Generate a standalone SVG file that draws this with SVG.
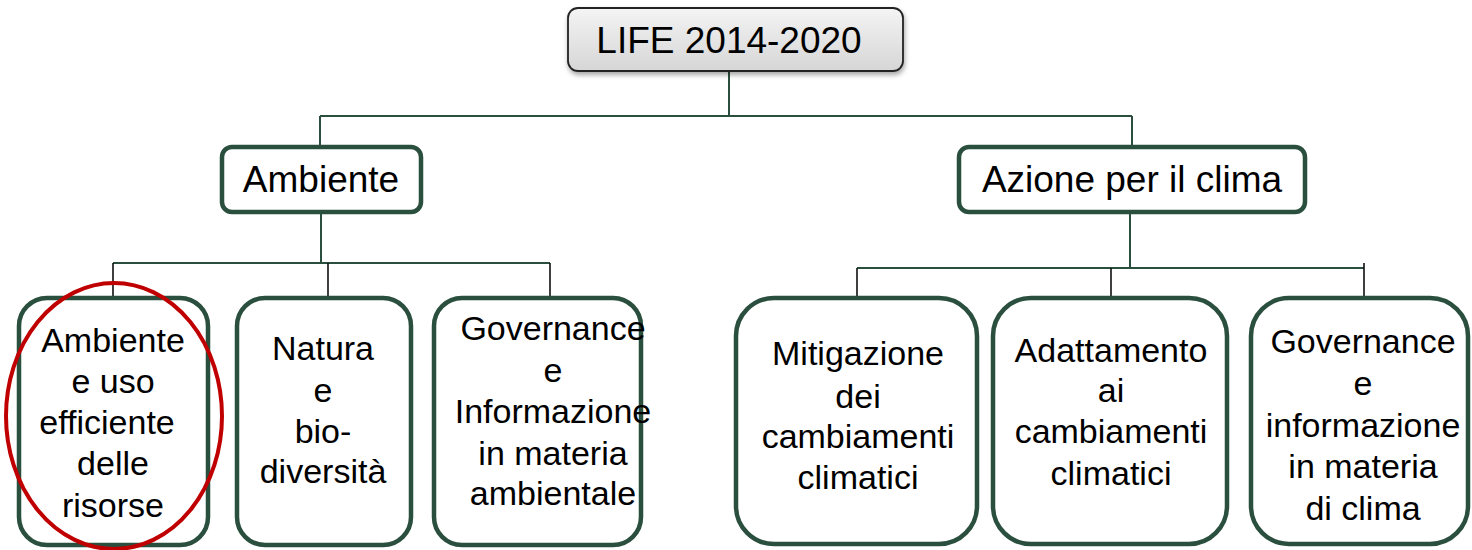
<svg xmlns="http://www.w3.org/2000/svg" width="1472" height="550" viewBox="0 0 1472 550">
<style>
.t{font-family:"Liberation Sans",Arial,sans-serif;fill:#000;text-anchor:middle}
.h{font-size:37px}
.s{font-size:34px}
.box{fill:#fff;stroke:#2b4f3f;stroke-width:4.5}
.ln{stroke:#2b4f3f;stroke-width:2;fill:none}
.dr{stroke:#111;stroke-width:1.6;fill:none}
</style>
<defs>
<linearGradient id="g" x1="0" y1="0" x2="0" y2="1">
<stop offset="0" stop-color="#f4f4f4"/>
<stop offset="1" stop-color="#d6d6d6"/>
</linearGradient>
<filter id="sh" x="-10%" y="-20%" width="120%" height="150%">
<feDropShadow dx="1" dy="3" stdDeviation="2.5" flood-color="#000" flood-opacity="0.35"/>
</filter>
</defs>
<g id="connectors">
<path class="ln" d="M729 71V116M320 116H1132M320 116V146M1132 116V146"/>
<path class="ln" d="M321 213V263M113 263H550"/>
<path class="dr" d="M113 263V297M328 263V297M550 263V297"/>
<path class="ln" d="M1130 212V268M857 268H1364"/>
<path class="dr" d="M857 268V297M1111 268V297M1364 263V297"/>
</g>
<g id="life">
<rect x="568" y="8" width="335" height="63" rx="10" fill="url(#g)" stroke="#222" stroke-width="1.8" filter="url(#sh)"/>
<text class="t h" x="729" y="53">LIFE 2014-2020</text>
</g>
<g id="ambiente">
<rect class="box" x="222" y="147" width="199" height="65" rx="10"/>
<text class="t h" x="321" y="192">Ambiente</text>
</g>
<g id="azione">
<rect class="box" x="959" y="147" width="346" height="65" rx="10"/>
<text class="t h" x="1132" y="192">Azione per il clima</text>
</g>
<g id="n1">
<rect class="box" x="19" y="298" width="189" height="247" rx="28"/>
<text class="t s" x="113" y="352">Ambiente</text>
<text class="t s" x="113" y="393">e uso</text>
<text class="t s" x="107" y="434">efficiente</text>
<text class="t s" x="113" y="475">delle</text>
<text class="t s" x="113" y="517">risorse</text>
</g>
<g id="n2">
<rect class="box" x="237" y="298" width="174" height="247" rx="28"/>
<text class="t s" x="323" y="360">Natura</text>
<text class="t s" x="323" y="402">e</text>
<text class="t s" x="323" y="443">bio-</text>
<text class="t s" x="323" y="483">diversità</text>
</g>
<g id="n3">
<rect class="box" x="434" y="298" width="207" height="247" rx="28"/>
<text class="t s" x="553" y="340">Governance</text>
<text class="t s" x="553" y="382">e</text>
<text class="t s" x="553" y="423">Informazione</text>
<text class="t s" x="553" y="465">in materia</text>
<text class="t s" x="553" y="505">ambientale</text>
</g>
<g id="n4">
<rect class="box" x="736" y="298" width="241" height="246" rx="38"/>
<text class="t s" x="858" y="365">Mitigazione</text>
<text class="t s" x="858" y="408">dei</text>
<text class="t s" x="858" y="448">cambiamenti</text>
<text class="t s" x="858" y="489">climatici</text>
</g>
<g id="n5">
<rect class="box" x="993" y="298" width="234" height="246" rx="38"/>
<text class="t s" x="1111" y="362">Adattamento</text>
<text class="t s" x="1111" y="402">ai</text>
<text class="t s" x="1111" y="443">cambiamenti</text>
<text class="t s" x="1111" y="485">climatici</text>
</g>
<g id="n6">
<rect class="box" x="1251" y="298" width="217" height="246" rx="38"/>
<text class="t s" x="1363" y="353">Governance</text>
<text class="t s" x="1363" y="395">e</text>
<text class="t s" x="1363" y="437">informazione</text>
<text class="t s" x="1363" y="478">in materia</text>
<text class="t s" x="1363" y="520">di clima</text>
</g>
<g id="highlight">
<ellipse cx="114" cy="416" rx="108" ry="133" fill="none" stroke="#c00000" stroke-width="4"/>
</g>
</svg>
